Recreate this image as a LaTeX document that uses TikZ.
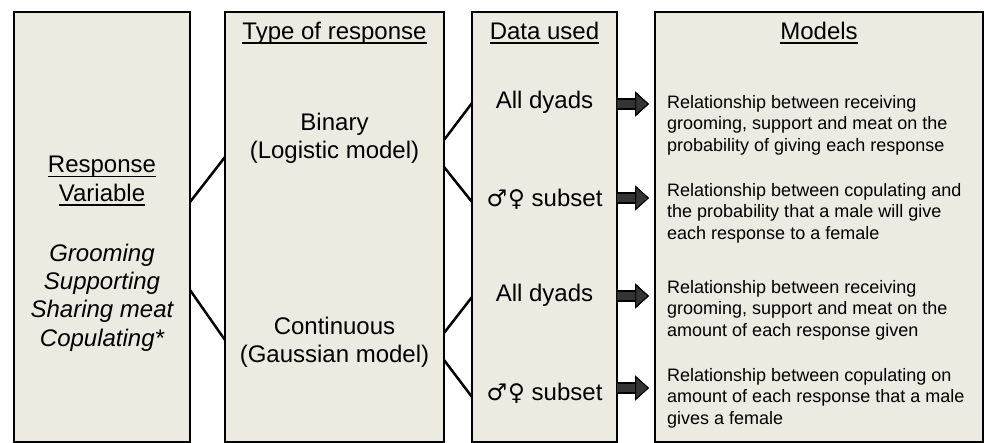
\documentclass[tikz,border=0pt]{standalone}
\usepackage{fontspec}
\setmainfont{Liberation Sans}
\newfontfamily\symfont{DejaVu Sans}
\usetikzlibrary{arrows.meta}
\definecolor{boxfill}{RGB}{236,234,225}
\definecolor{arrowfill}{RGB}{52,52,52}
\newcommand{\ulbox}[1]{\setbox0\hbox{#1}\rlap{\rule[-4.5pt]{\wd0}{1.5pt}}\box0}
\newcommand{\mf}{{\symfont\fontsize{23}{28}\selectfont ♂\kern1pt♀}}

\begin{document}
\begin{tikzpicture}[x=1pt,y=-1pt,
		column/.style={draw, line width=2.5pt, fill=boxfill, outer sep=0pt, inner sep=0pt, minimum height=430pt},
		big/.style={font=\fontsize{24}{28.3}\selectfont, align=center, inner sep=0pt},
		small/.style={font=\fontsize{18}{21.5}\selectfont, align=left, anchor=west, inner sep=0pt},
		link/.style={line width=2.5pt},
		fat/.style={shorten >=6pt, line width=8pt, draw=arrowfill,
			-{Triangle[length=14pt,width=25pt,line width=1pt,color=black,fill=arrowfill]},
			preaction={draw=black, line width=12pt, shorten >=6pt,
				-{Triangle[length=14pt,width=25pt,line width=1pt,color=black,fill=arrowfill]}}}]
		\useasboundingbox (0,0) rectangle (984,442);
		
		\node[column, minimum width=176pt] (col1) at (102, 227) {};
		\node[column, minimum width=219pt] (col2) at (334.5, 227) {};
		\node[column, minimum width=145pt] (col3) at (544.5, 227) {};
		\node[column, minimum width=328pt] (col4) at (819, 227) {};
		
		\node[big] (resp) at (102, 181) {\ulbox{Response}\\\ulbox{Variable}};
		\node[big] (vars) at (102, 297.5) {\itshape Grooming\\\itshape Supporting\\\itshape Sharing meat\\\itshape Copulating*};
		
		\node[big] (type) at (334.5, 33) {\ulbox{Type of response}};
		\node[big] (bin) at (334.5, 138) {Binary\\(Logistic model)};
		\node[big] (cont) at (334.5, 342) {Continuous\\(Gaussian model)};
		
		\node[big] (data) at (544.5, 33) {\ulbox{Data used}};
		\node[big] (d1) at (544.5, 102) {All dyads};
		\node[big] (d2) at (544.5, 199) {\mf{} subset};
		\node[big] (d3) at (544.5, 295) {All dyads};
		\node[big] (d4) at (544.5, 393) {\mf{} subset};
		
		\node[big] (models) at (819, 33) {\ulbox{Models}};
		\node[small] (m1) at (667, 125) {Relationship between receiving\\grooming, support and meat on the\\probability of giving each response};
		\node[small] (m2) at (667, 213) {Relationship between copulating and\\the probability that a male will give\\each response to a female};
		\node[small] (m3) at (667, 310) {Relationship between receiving\\grooming, support and meat on the\\amount of each response given};
		\node[small] (m4) at (667, 398) {Relationship between copulating on\\amount of each response that a male\\gives a female};
		
		\draw[link] (col1.east |- 0,202) -- (col2.west |- 0,157);
		\draw[link] (col1.east |- 0,290) -- (col2.west |- 0,340);
		
		\draw[link] (col2.east |- 0,140) -- (col3.west |- 0,103);
		\draw[link] (col2.east |- 0,167) -- (col3.west |- 0,202);
		\draw[link] (col2.east |- 0,333) -- (col3.west |- 0,297);
		\draw[link] (col2.east |- 0,360) -- (col3.west |- 0,397);
		
		\draw[fat] (col3.east |- 0,104) -- (col4.west |- 0,104);
		\draw[fat] (col3.east |- 0,198) -- (col4.west |- 0,198);
		\draw[fat] (col3.east |- 0,296) -- (col4.west |- 0,296);
		\draw[fat] (col3.east |- 0,388) -- (col4.west |- 0,388);
\end{tikzpicture}
\end{document}
